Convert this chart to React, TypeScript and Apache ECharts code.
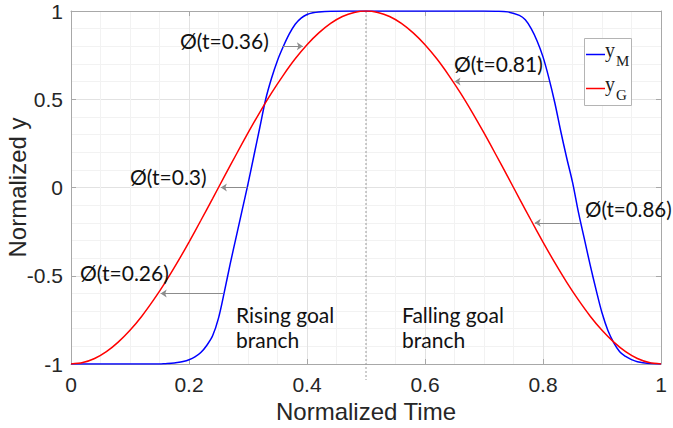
import React, { useEffect, useRef } from "react";
import * as echarts from "echarts";

// Goal signal y_G (red), sampled every 0.02 of normalized time
const timeG = [
  0, 0.02, 0.04, 0.06, 0.08, 0.1, 0.12, 0.14, 0.16, 0.18, 0.2, 0.22, 0.24, 0.26, 0.28, 0.3, 0.32, 0.34,
  0.36, 0.38, 0.4, 0.42, 0.44, 0.46, 0.48, 0.5, 0.52, 0.54, 0.56, 0.58, 0.6, 0.62, 0.64, 0.66, 0.68,
  0.7, 0.72, 0.74, 0.76, 0.78, 0.8, 0.82, 0.84, 0.86, 0.88, 0.9, 0.92, 0.94, 0.96, 0.98, 1,
];
const valuesG = [
  -1, -0.992, -0.969, -0.93, -0.876, -0.809, -0.729, -0.637, -0.536, -0.426, -0.309, -0.187, -0.063,
  0.063, 0.187, 0.309, 0.426, 0.536, 0.637, 0.729, 0.809, 0.876, 0.93, 0.969, 0.992, 1, 0.992, 0.969,
  0.93, 0.876, 0.809, 0.729, 0.637, 0.536, 0.426, 0.309, 0.187, 0.063, -0.063, -0.187, -0.309, -0.426,
  -0.536, -0.637, -0.729, -0.809, -0.876, -0.93, -0.969, -0.992, -1,
];

// Model output y_M (blue), [time, value]
const pointsM: [number, number][] = [
  [0, -1], [0.05, -1], [0.1, -1], [0.15, -1], [0.16, -0.998], [0.17, -0.996], [0.18, -0.992],
  [0.19, -0.986], [0.2, -0.976], [0.21, -0.96], [0.22, -0.935], [0.23, -0.895], [0.24, -0.84],
  [0.25, -0.74], [0.26, -0.59], [0.27, -0.43], [0.28, -0.28], [0.29, -0.13], [0.3, 0.02],
  [0.31, 0.18], [0.32, 0.34], [0.33, 0.5], [0.34, 0.62], [0.35, 0.72], [0.36, 0.8], [0.37, 0.87],
  [0.38, 0.925], [0.39, 0.96], [0.4, 0.98], [0.41, 0.99], [0.42, 0.995], [0.44, 0.999], [0.47, 1],
  [0.5, 1], [0.55, 1], [0.6, 1], [0.65, 1], [0.7, 1], [0.72, 0.999], [0.74, 0.995], [0.76, 0.975],
  [0.77, 0.95], [0.78, 0.9], [0.79, 0.83], [0.8, 0.74], [0.81, 0.62], [0.82, 0.48], [0.83, 0.32],
  [0.84, 0.17], [0.85, 0.03], [0.86, -0.14], [0.87, -0.29], [0.88, -0.44], [0.89, -0.58],
  [0.9, -0.71], [0.91, -0.81], [0.92, -0.88], [0.93, -0.93], [0.94, -0.957], [0.95, -0.975],
  [0.96, -0.987], [0.98, -0.997], [1, -1],
];

// Phase annotations: arrow from y_M to y_G at the same height
const arrowLabels = ["Ø(t=0.26)", "Ø(t=0.3)", "Ø(t=0.36)", "Ø(t=0.81)", "Ø(t=0.86)"];
const arrowLevel = [-0.6, 0, 0.8, 0.6, -0.2];
const arrowFromT = [0.258, 0.299, 0.358, 0.81, 0.862];
const arrowToT = [0.152, 0.254, 0.393, 0.65, 0.786];
const labelPos: [number, number][] = [
  [80, 272], [130, 176], [180, 40], [454, 63], [585, 209],
];

const seriesNames = ["yM", "yG"];
const seriesSubscripts = ["M", "G"];
const seriesColors = ["#0000ff", "#ff0000"];

const xTicks = { min: 0, max: 1, interval: 0.2 };
const yTicks = { min: -1, max: 1, interval: 0.5 };

const AXIS_COLOR = "#a8a8a8";
const TEXT_COLOR = "#262626";
const ANNO_FONT = "Lato, 'Open Sans', sans-serif";
const AXIS_FONT = "'Liberation Sans', Arial, sans-serif";
const SERIF = "'Liberation Serif', 'DejaVu Serif', serif";

export default function App() {
  const ref = useRef<HTMLDivElement>(null);

  useEffect(() => {
    if (!ref.current) return;
    const chart = echarts.init(ref.current, null, { renderer: "svg" });

    const dataG = timeG.map((t, i) => [t, valuesG[i]]);
    const arrows = arrowLevel.map((y, i) => [
      { coord: [arrowFromT[i], y] },
      { coord: [arrowToT[i], y] },
    ]);

    const mainAxisCommon = {
      type: "value" as const,
      axisLine: { show: true, onZero: false, lineStyle: { color: AXIS_COLOR, width: 1 } },
      axisTick: { show: true, inside: true, length: 5, lineStyle: { color: AXIS_COLOR } },
    };

    chart.setOption({
      animation: false,
      backgroundColor: "#ffffff",
      grid: { left: 71, right: 12, top: 11, bottom: 64, containLabel: false, outerBoundsMode: "none" },
      xAxis: [
        {
          ...mainAxisCommon,
          position: "bottom",
          min: xTicks.min,
          max: xTicks.max,
          interval: xTicks.interval,
          name: "Normalized Time",
          nameLocation: "middle",
          nameGap: 33,
          nameTextStyle: { fontFamily: AXIS_FONT, fontSize: 24, color: TEXT_COLOR },
          axisLabel: { fontFamily: AXIS_FONT, fontSize: 21, color: TEXT_COLOR, margin: 10 },
          splitLine: { show: true, lineStyle: { color: "#e2e2e2", width: 1 } },
          minorTick: { show: false, splitNumber: 4 },
          minorSplitLine: { show: true, lineStyle: { color: "#f2f2f2", width: 1 } },
        },
        {
          ...mainAxisCommon,
          position: "top",
          min: xTicks.min,
          max: xTicks.max,
          interval: xTicks.interval,
          axisLabel: { show: false },
          splitLine: { show: false },
        },
      ],
      yAxis: [
        {
          ...mainAxisCommon,
          position: "left",
          min: yTicks.min,
          max: yTicks.max,
          interval: yTicks.interval,
          name: "Normalized y",
          nameLocation: "middle",
          nameGap: 42,
          nameMoveOverlap: false,
          nameTextStyle: { fontFamily: AXIS_FONT, fontSize: 24, color: TEXT_COLOR },
          axisLabel: { fontFamily: AXIS_FONT, fontSize: 21, color: TEXT_COLOR, margin: 8 },
          splitLine: { show: true, lineStyle: { color: "#e2e2e2", width: 1 } },
          minorTick: { show: false, splitNumber: 5 },
          minorSplitLine: { show: true, lineStyle: { color: "#f2f2f2", width: 1 } },
        },
        {
          ...mainAxisCommon,
          position: "right",
          min: yTicks.min,
          max: yTicks.max,
          interval: yTicks.interval,
          axisLabel: { show: false },
          splitLine: { show: false },
        },
      ],
      series: [
        {
          name: seriesNames[0],
          type: "line",
          data: pointsM,
          showSymbol: false,
          symbol: "none",
          smooth: 0.35,
          lineStyle: { color: seriesColors[0], width: 1.5 },
          itemStyle: { color: seriesColors[0] },
          z: 3,
        },
        {
          name: seriesNames[1],
          type: "line",
          data: dataG,
          showSymbol: false,
          symbol: "none",
          smooth: 0.3,
          lineStyle: { color: seriesColors[1], width: 1.5 },
          itemStyle: { color: seriesColors[1] },
          z: 4,
          markLine: {
            silent: true,
            symbol: ["none", "arrow"],
            symbolSize: [6, 6],
            label: { show: false },
            lineStyle: { color: "#8c8c8c", width: 1, type: "solid" },
            data: arrows,
          },
        },
      ],
    });

    const midX = chart.convertToPixel({ xAxisIndex: 0 }, 0.5) as number;
    const topY = chart.convertToPixel({ yAxisIndex: 0 }, 1) as number;
    const botY = chart.convertToPixel({ yAxisIndex: 0 }, -1) as number;

    const annoText = (txt: string, x: number, y: number, size = 21) => ({
      type: "text",
      x,
      y,
      style: {
        text: txt,
        font: `${size}px ${ANNO_FONT}`,
        lineHeight: 25,
        fill: "#111111",
        textVerticalAlign: "middle",
        textAlign: "left",
      },
      z: 10,
    });

    // Legend box (MATLAB style, with subscripted names)
    const legendLeft = 584;
    const legendTop = 38;
    const rowH = 34;
    const legendItems = seriesSubscripts.flatMap((sub, i) => {
      const cy = legendTop + 16.5 + i * rowH;
      return [
        {
          type: "line",
          shape: { x1: legendLeft + 2, y1: cy, x2: legendLeft + 21, y2: cy },
          style: { stroke: seriesColors[i], lineWidth: 1.5 },
          z: 21,
        },
        {
          type: "text",
          x: legendLeft + 21,
          y: cy - 4.5,
          style: { text: "y", font: `20px ${SERIF}`, fill: "#1a1a1a", textVerticalAlign: "middle" },
          z: 21,
        },
        {
          type: "text",
          x: legendLeft + 32,
          y: cy + 6.5,
          style: { text: sub, font: `15px ${SERIF}`, fill: "#1a1a1a", textVerticalAlign: "middle" },
          z: 21,
        },
      ];
    });

    chart.setOption({
      graphic: [
        {
          type: "line",
          shape: { x1: midX, y1: topY, x2: midX, y2: botY + 16 },
          style: { stroke: "#9a9a9a", lineWidth: 1, lineDash: [2, 2] },
          z: 1,
        },
        ...arrowLabels.map((txt, i) =>
          annoText(txt, labelPos[i][0], labelPos[i][1], i === 4 ? 20.5 : 21)
        ),
        annoText("Rising goal\nbranch", 236, 327),
        annoText("Falling goal\nbranch", 402, 327),
        {
          type: "rect",
          shape: { x: legendLeft + 0.5, y: legendTop + 0.5, width: 47, height: 67 },
          style: { fill: "#ffffff", stroke: "#b4b4b4", lineWidth: 1 },
          z: 20,
        },
        ...legendItems,
      ],
    });

    return () => chart.dispose();
  }, []);

  return (
    <div style={{ position: "fixed", left: 0, top: 0, width: 673, height: 428 }}>
      <div ref={ref} style={{ width: 673, height: 428 }} />
    </div>
  );
}
